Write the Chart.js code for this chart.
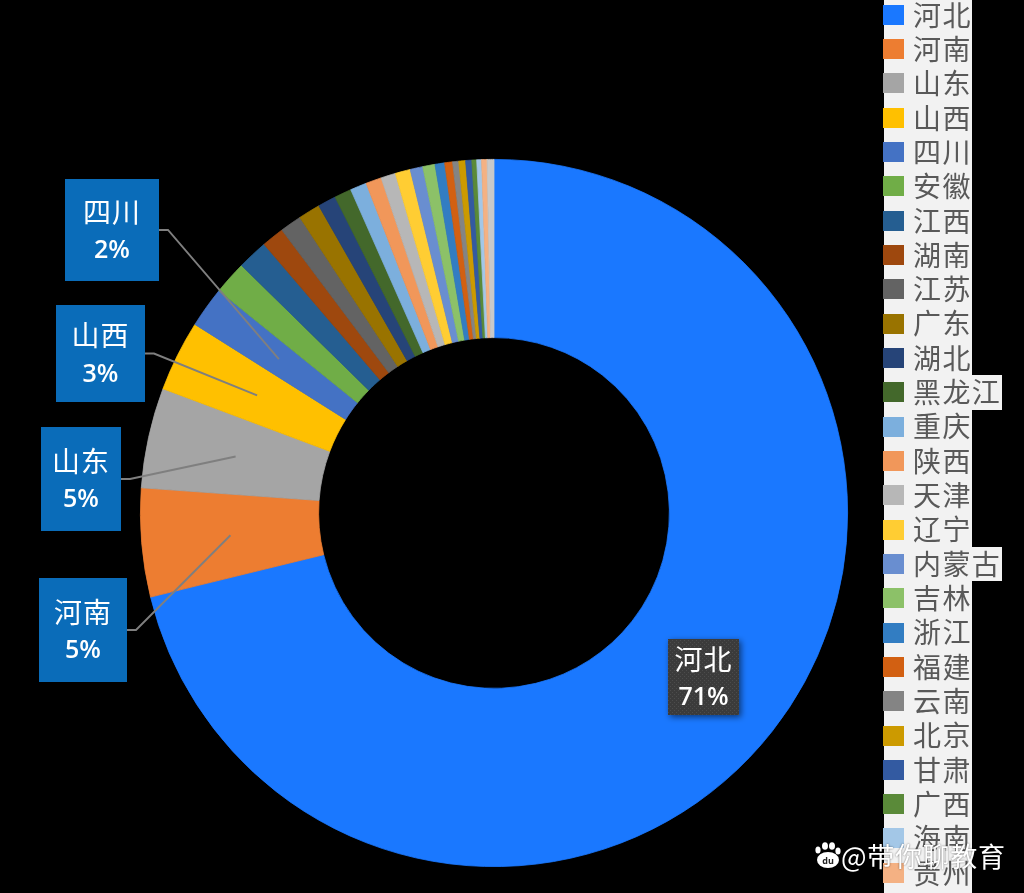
<!DOCTYPE html>
<html>
<head>
<meta charset="utf-8">
<title>各省占比</title>
<script src="https://cdn.jsdelivr.net/npm/chart.js@4/dist/chart.umd.min.js"></script>
<style>
  html, body { margin: 0; padding: 0; background: #000; overflow: hidden; }
  canvas { display: block; }
</style>
</head>
<body>
<canvas id="chart" width="1024" height="893"></canvas>
<script>
const provinces = ['河北', '河南', '山东', '山西', '四川', '安徽', '江西', '湖南', '江苏', '广东', '湖北', '黑龙江', '重庆', '陕西', '天津', '辽宁', '内蒙古', '吉林', '浙江', '福建', '云南', '北京', '甘肃', '广西', '海南', '贵州', '其他'];
const shares = [71.2, 4.96, 4.58, 3.24, 1.86, 1.53, 1.39, 1.03, 0.99, 1.0, 0.83, 0.78, 0.75, 0.72, 0.67, 0.69, 0.58, 0.56, 0.44, 0.36, 0.28, 0.31, 0.28, 0.22, 0.22, 0.25, 0.31];
const colors = ['#1A78FF', '#ED7D31', '#A5A5A5', '#FFC000', '#4472C4', '#70AD47', '#255E91', '#9E480E', '#636363', '#997300', '#264478', '#43682B', '#7CAFDD', '#F1975A', '#B7B7B7', '#FFCD33', '#698ED0', '#8CC168', '#327DC2', '#D26012', '#848484', '#CC9A00', '#335AA1', '#5A8A39', '#A3C7E7', '#F4B183', '#C9C9C9'];

// callout boxes, leader line runs from the box to the middle of the slice
const callouts = [
  { name: '河南', x: 39, y: 578, w: 88, h: 104 },
  { name: '山东', x: 41, y: 427, w: 80, h: 104 },
  { name: '山西', x: 56, y: 305, w: 89, h: 97 },
  { name: '四川', x: 65, y: 179, w: 94, h: 102 }
];
const mainCallout = { name: '河北', x: 668, y: 639, w: 71, h: 76 };

const CJK = '"Noto Sans CJK SC", "Noto Sans", sans-serif';
const PCT = '"Open Sans", "Noto Sans", sans-serif';

function percentOf(name) {
  const total = shares.reduce((a, b) => a + b, 0);
  return Math.round(shares[provinces.indexOf(name)] / total * 100) + '%';
}

function dottedFill(ctx) {
  const tile = document.createElement('canvas');
  tile.width = 4;
  tile.height = 4;
  const t = tile.getContext('2d');
  t.fillStyle = '#3b3b3b';
  t.fillRect(0, 0, 4, 4);
  t.fillStyle = '#4c4c4c';
  t.fillRect(0, 0, 1, 1);
  t.fillRect(2, 2, 1, 1);
  return ctx.createPattern(tile, 'repeat');
}

function calloutText(ctx, c) {
  const midY = c.y + c.h / 2;
  ctx.fillStyle = '#fff';
  ctx.font = '28px ' + CJK;
  ctx.letterSpacing = '1px';
  ctx.fillText(c.name, c.x + c.w / 2, midY - 18);
  ctx.letterSpacing = '0px';
  ctx.font = '600 25px ' + PCT;
  ctx.fillText(percentOf(c.name), c.x + c.w / 2, midY + 21);
}

const calloutPlugin = {
  id: 'callouts',
  afterDatasetsDraw(chart) {
    const ctx = chart.ctx;
    const arcs = chart.getDatasetMeta(0).data;
    ctx.save();
    ctx.textAlign = 'center';
    ctx.textBaseline = 'middle';

    callouts.forEach(c => {
      const tip = arcs[provinces.indexOf(c.name)].getCenterPoint();
      const midY = c.y + c.h / 2;
      ctx.strokeStyle = '#7F7F7F';
      ctx.lineWidth = 1.9;
      ctx.beginPath();
      ctx.moveTo(c.x + c.w, midY);
      ctx.lineTo(c.x + c.w + 9, midY);
      ctx.lineTo(tip.x, tip.y);
      ctx.stroke();

      ctx.fillStyle = '#0A6CB9';
      ctx.fillRect(c.x, c.y, c.w, c.h);
      calloutText(ctx, c);
    });

    const m = mainCallout;
    ctx.save();
    ctx.shadowColor = 'rgba(0,0,0,0.55)';
    ctx.shadowBlur = 6;
    ctx.shadowOffsetX = 2;
    ctx.shadowOffsetY = 2;
    ctx.fillStyle = dottedFill(ctx);
    ctx.fillRect(m.x, m.y, m.w, m.h);
    ctx.restore();
    calloutText(ctx, m);
    ctx.restore();
  }
};

// legend is a bit odd in the source: each row has its own light strip
const legendPlugin = {
  id: 'stripLegend',
  afterDraw(chart) {
    const ctx = chart.ctx;
    const left = 884, rowH = 34.32, top = -2.2;
    ctx.save();
    ctx.textBaseline = 'middle';
    ctx.fillStyle = '#F2F2F2';
    provinces.forEach((name, i) => {
      const y0 = Math.round(top + i * rowH);
      const y1 = Math.round(top + (i + 1) * rowH);
      ctx.fillRect(left, y0, name.length > 2 ? 118 : 88, y1 - y0);
    });
    ctx.font = '28px ' + CJK;
    ctx.letterSpacing = '1.4px';
    provinces.forEach((name, i) => {
      const y = top + i * rowH;
      if (y + rowH > chart.height + 4) return; // the source cuts the list off here
      ctx.fillStyle = colors[i];
      ctx.fillRect(883, Math.round(y + 7), 21, 20);
      ctx.fillStyle = '#595959';
      ctx.fillText(name, 913, y + rowH / 2);
    });
    ctx.restore();
  }
};

const watermarkPlugin = {
  id: 'watermark',
  afterDraw(chart) {
    const ctx = chart.ctx;
    ctx.save();
    ctx.fillStyle = '#fff';
    ctx.shadowColor = 'rgba(0,0,0,0.6)';
    ctx.shadowBlur = 2;
    // paw
    [[818, 850, 2.6, 3.6], [825, 846, 3, 3.8], [832, 846, 3, 3.8], [838, 851, 2.6, 3.6]].forEach(p => {
      ctx.beginPath();
      ctx.ellipse(p[0], p[1], p[2], p[3], 0, 0, Math.PI * 2);
      ctx.fill();
    });
    ctx.beginPath();
    ctx.ellipse(828, 860, 11, 8, 0, 0, Math.PI * 2);
    ctx.fill();
    ctx.shadowBlur = 0;
    ctx.fillStyle = '#222';
    ctx.font = 'bold 9px ' + PCT;
    ctx.textAlign = 'center';
    ctx.textBaseline = 'middle';
    ctx.fillText('du', 828, 861);
    ctx.shadowBlur = 2;
    ctx.fillStyle = '#fff';
    ctx.textAlign = 'left';
    ctx.font = '27px ' + CJK;
    ctx.letterSpacing = '0.7px';
    ctx.fillText('@带你聊教育', 841, 857);
    ctx.restore();
  }
};

new Chart(document.getElementById('chart'), {
  type: 'doughnut',
  data: {
    labels: provinces,
    datasets: [{
      data: shares,
      backgroundColor: colors,
      borderColor: colors, // same colour as the fill, hides the seams between slices
      borderWidth: 0.8
    }]
  },
  options: {
    responsive: false,
    animation: false,
    cutout: '49.6%',
    layout: { padding: { left: 140, top: 159, right: 176, bottom: 26 } },
    plugins: {
      legend: { display: false },
      tooltip: { enabled: false }
    }
  },
  plugins: [calloutPlugin, legendPlugin, watermarkPlugin]
});
</script>
</body>
</html>
